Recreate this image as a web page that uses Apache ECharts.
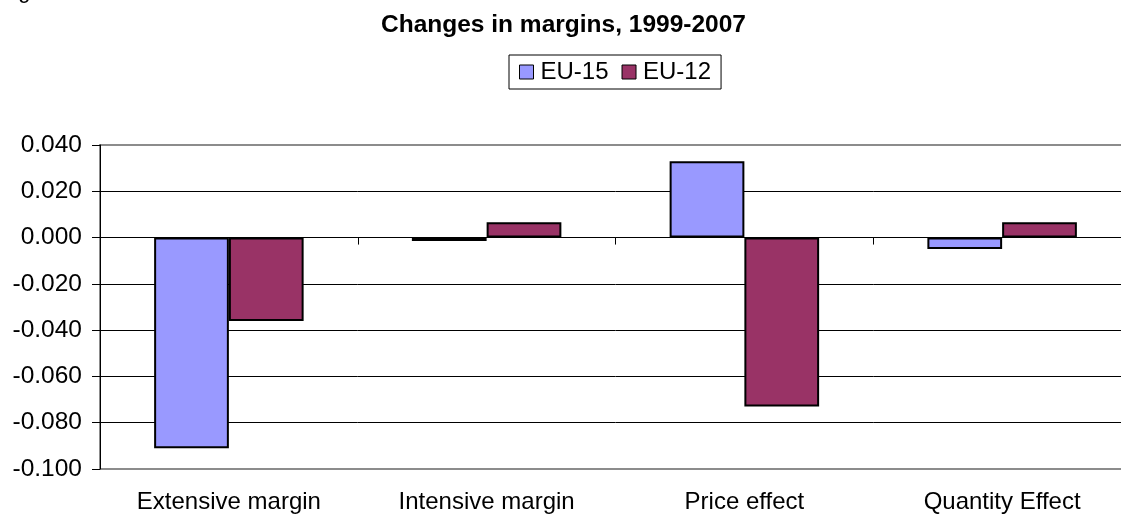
<!DOCTYPE html>
<html>
<head>
<meta charset="utf-8">
<script src="https://cdn.jsdelivr.net/npm/echarts@6/dist/echarts.min.js"></script>
<style>
html,body{margin:0;padding:0;background:#fff;overflow:hidden;width:1121px;height:514px;}
#chart{width:1132px;height:514px;}
</style>
</head>
<body>
<div id="chart"></div>
<script>
var titleText = 'Changes in margins, 1999-2007';
var categories = ['Extensive margin', 'Intensive margin', 'Price effect', 'Quantity Effect'];
var seriesNames = ['EU-15', 'EU-12'];
var eu15 = [-0.091, -0.0015, 0.033, -0.0049];
var eu12 = [-0.036, 0.0066, -0.073, 0.0066];
var yMin = -0.1, yMax = 0.04, yStep = 0.02;

var FONT = "'Liberation Sans', Arial, sans-serif";
var chart = echarts.init(document.getElementById('chart'), null, {renderer: 'canvas'});
var nLines = Math.round((yMax - yMin) / yStep) + 1;
var splitColors = [];
for (var i = 0; i < nLines; i++) splitColors.push((i === 0 || i === nLines - 1) ? '#8c8c8c' : '#000');

chart.setOption({
  animation: false,
  backgroundColor: '#fff',
  title: {
    text: titleText, left: 376, top: 8,
    textStyle: {fontFamily: FONT, fontSize: 24.5, fontWeight: 'bold', color: '#000'}
  },
  graphic: [{
    type: 'text', left: 0, top: -19, silent: true,
    style: {text: 'Figure', font: '22px ' + FONT, fill: '#000'}
  }],
  legend: {
    data: seriesNames, top: 55, left: 509,
    icon: 'rect', itemWidth: 14, itemHeight: 14, itemGap: 13,
    padding: [5, 10, 5, 10],
    borderColor: '#000', borderWidth: 1,
    itemStyle: {borderColor: '#000', borderWidth: 1},
    textStyle: {fontFamily: FONT, fontSize: 24, color: '#000', padding: [0, 0, 0, 2]}
  },
  grid: {
    left: 100, top: 145, width: 1031, height: 324,
    show: true, borderColor: '#8c8c8c', borderWidth: 2, backgroundColor: 'transparent'
  },
  xAxis: [{
    type: 'category', data: categories, position: 'bottom',
    axisLine: {show: false, onZero: false}, axisTick: {show: false},
    axisLabel: {fontFamily: FONT, fontSize: 24, color: '#000', margin: 21, interval: 0},
    splitLine: {show: false}
  }, {
    type: 'category', data: categories, position: 'top',
    axisLine: {show: true, onZero: true, lineStyle: {color: '#000', width: 1}},
    axisTick: {show: true, inside: true, length: 7, lineStyle: {color: '#000'}},
    axisLabel: {show: false}, splitLine: {show: false}
  }],
  yAxis: {
    type: 'value', min: yMin, max: yMax, interval: yStep,
    axisLine: {show: true, lineStyle: {color: '#000', width: 1}},
    axisTick: {show: true, length: 8, lineStyle: {color: '#000'}},
    axisLabel: {fontFamily: FONT, fontSize: 24.5, color: '#000', margin: 18,
      formatter: function (v) { return v.toFixed(3); }},
    splitLine: {show: true, lineStyle: {color: splitColors, width: 1}}
  },
  series: [{
    name: seriesNames[0], type: 'bar', data: eu15, xAxisIndex: 0,
    barGap: '0%', barCategoryGap: '42%',
    itemStyle: {color: '#9999FF', borderColor: '#000', borderWidth: 2}
  }, {
    name: seriesNames[1], type: 'bar', data: eu12, xAxisIndex: 0,
    barGap: '0%', barCategoryGap: '42%',
    itemStyle: {color: '#993366', borderColor: '#000', borderWidth: 2}
  }]
});
</script>
</body>
</html>
